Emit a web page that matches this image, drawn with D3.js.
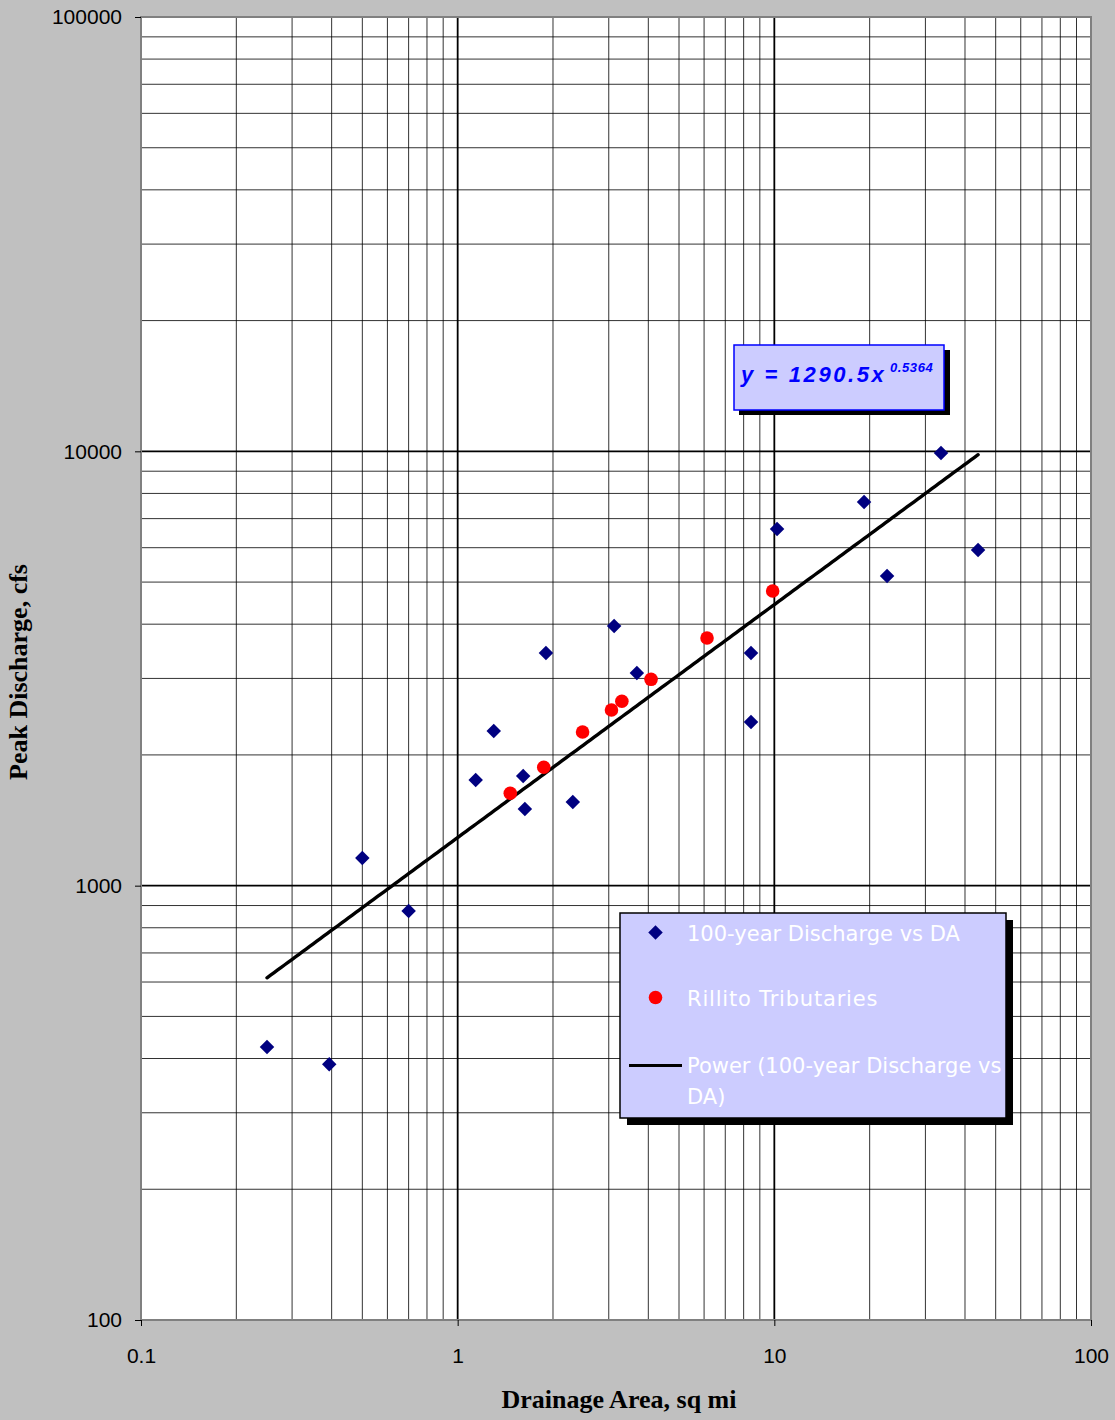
<!DOCTYPE html>
<html>
<head>
<meta charset="utf-8">
<script src="https://cdn.jsdelivr.net/npm/d3@7"></script>
<style>
  html, body { margin: 0; padding: 0; background: #C0C0C0; }
  svg { display: block; }
</style>
</head>
<body>
<svg id="chart" width="1115" height="1420"></svg>
<script>
// ---- Data ----
const xTickValues = [0.1, 1, 10, 100];
const xTickLabels = ["0.1", "1", "10", "100"];
const yTickValues = [100, 1000, 10000, 100000];
const yTickLabels = ["100", "1000", "10000", "100000"];

// 100-year Discharge vs DA (blue diamonds)
const daArea = [0.25, 0.393, 0.50, 0.70, 1.14, 1.30, 1.61, 1.63, 1.90, 2.31, 3.12, 3.68, 8.44, 8.44, 10.2, 19.2, 22.7, 33.6, 44.0];
const daQ    = [425, 388, 1158, 874, 1751, 2270, 1788, 1501, 3433, 1558, 3962, 3088, 3433, 2381, 6625, 7644, 5164, 9912, 5925];

// Rillito Tributaries (red circles)
const rtArea = [1.466, 1.87, 2.48, 3.06, 3.30, 4.08, 6.13, 9.88];
const rtQ    = [1632, 1873, 2258, 2538, 2658, 2986, 3717, 4769];

// Power trendline coefficients (from displayed equation)
const trendCoef = 1290.5;
const trendExp = 0.5364;

const seriesNames = ["100-year Discharge vs DA", "Rillito Tributaries", "Power (100-year Discharge vs", "DA)"];

// ---- Layout ----
const svg = d3.select("#chart");
const L = 141, R = 1091, T = 17, B = 1320;

const x = d3.scaleLog().domain([0.1, 100]).range([L, R]);
const y = d3.scaleLog().domain([100, 100000]).range([B, T]);

// plot background
svg.append("rect").attr("x", L).attr("y", T).attr("width", R - L).attr("height", B - T).attr("fill", "#fff");

// grid
const minorX = [], minorY = [];
for (let d = 0.1; d < 100; d *= 10) for (let k = 2; k <= 9; k++) minorX.push(d * k);
for (let d = 100; d < 100000; d *= 10) for (let k = 2; k <= 9; k++) minorY.push(d * k);

const grid = svg.append("g");
grid.selectAll(".gxm").data(minorX).join("line")
  .attr("x1", d => x(d)).attr("x2", d => x(d)).attr("y1", T).attr("y2", B)
  .attr("stroke", "#000").attr("stroke-width", 1).attr("opacity", 0.8);
grid.selectAll(".gym").data(minorY).join("line")
  .attr("y1", d => y(d)).attr("y2", d => y(d)).attr("x1", L).attr("x2", R)
  .attr("stroke", "#000").attr("stroke-width", 1).attr("opacity", 0.8);
grid.selectAll(".gxM").data(xTickValues).join("line")
  .attr("x1", d => x(d)).attr("x2", d => x(d)).attr("y1", T).attr("y2", B)
  .attr("stroke", "#000").attr("stroke-width", 1.8);
grid.selectAll(".gyM").data(yTickValues).join("line")
  .attr("y1", d => y(d)).attr("y2", d => y(d)).attr("x1", L).attr("x2", R)
  .attr("stroke", "#000").attr("stroke-width", 1.8);

// plot border
svg.append("rect").attr("x", L).attr("y", T).attr("width", R - L).attr("height", B - T)
  .attr("fill", "none").attr("stroke", "#808080").attr("stroke-width", 2);

// axes
const xAxis = d3.axisBottom(x).tickValues(xTickValues).tickSize(6).tickPadding(22)
  .tickFormat((d, i) => xTickLabels[i]);
const gx = svg.append("g").attr("transform", `translate(0,${B})`).call(xAxis);
gx.select(".domain").remove();
gx.selectAll("line").attr("stroke", "#000");
gx.selectAll("text").attr("font-family", "Liberation Sans, Arial, sans-serif").attr("font-size", 21).attr("fill", "#000");

const yAxis = d3.axisLeft(y).tickValues(yTickValues).tickSize(6).tickPadding(13)
  .tickFormat((d, i) => yTickLabels[i]);
const gy = svg.append("g").attr("transform", `translate(${L},0)`).call(yAxis);
gy.select(".domain").remove();
gy.selectAll("line").attr("stroke", "#000");
gy.selectAll("text").attr("font-family", "Liberation Sans, Arial, sans-serif").attr("font-size", 21).attr("fill", "#000");

// axis titles
svg.append("text").attr("x", 619).attr("y", 1408).attr("text-anchor", "middle")
  .attr("font-family", "Liberation Serif, Times New Roman, serif").attr("font-weight", "bold").attr("font-size", 26)
  .attr("fill", "#000").text("Drainage Area, sq mi");
svg.append("text").attr("transform", "translate(27,672) rotate(-90)").attr("text-anchor", "middle")
  .attr("font-family", "Liberation Serif, Times New Roman, serif").attr("font-weight", "bold").attr("font-size", 26)
  .attr("fill", "#000").text("Peak Discharge, cfs");

// trendline
const lo = Math.log10(d3.min(daArea)), hi = Math.log10(d3.max(daArea));
const trendX = d3.range(0, 201).map(i => Math.pow(10, lo + i / 200 * (hi - lo)));
const line = d3.line().x(d => x(d)).y(d => y(trendCoef * Math.pow(d, trendExp)));
svg.append("path").datum(trendX).attr("d", line).attr("fill", "none").attr("stroke", "#000")
  .attr("stroke-width", 3.4).attr("stroke-linecap", "round");

// blue diamonds
const diamond = d3.symbol().type(d3.symbolSquare).size(105);
svg.append("g").selectAll("path").data(daArea.map((a, i) => [a, daQ[i]])).join("path")
  .attr("d", diamond)
  .attr("transform", d => `translate(${x(d[0])},${y(d[1])}) rotate(45)`)
  .attr("fill", "#000080");

// red circles
svg.append("g").selectAll("circle").data(rtArea.map((a, i) => [a, rtQ[i]])).join("circle")
  .attr("cx", d => x(d[0])).attr("cy", d => y(d[1])).attr("r", 6.8)
  .attr("fill", "#FF0000");

// equation box
svg.append("rect").attr("x", 739).attr("y", 350).attr("width", 211).attr("height", 65).attr("fill", "#000");
svg.append("rect").attr("x", 734).attr("y", 345).attr("width", 210).attr("height", 65)
  .attr("fill", "#CCCCFF").attr("stroke", "#0000FF").attr("stroke-width", 1.5);
svg.append("text").attr("x", 741).attr("y", 382)
  .attr("font-family", "Liberation Sans, Arial, sans-serif").attr("font-weight", "bold").attr("font-style", "italic")
  .attr("font-size", 22).attr("letter-spacing", 2.6).attr("fill", "#0000FF").text(`y = ${trendCoef}x`);
svg.append("text").attr("x", 890).attr("y", 372)
  .attr("font-family", "Liberation Sans, Arial, sans-serif").attr("font-weight", "bold").attr("font-style", "italic")
  .attr("font-size", 13).attr("letter-spacing", 0.6).attr("fill", "#0000FF").text(String(trendExp));

// legend
svg.append("rect").attr("x", 627).attr("y", 920).attr("width", 386).attr("height", 205).attr("fill", "#000");
svg.append("rect").attr("x", 620).attr("y", 913).attr("width", 386).attr("height", 205)
  .attr("fill", "#CCCCFF").attr("stroke", "#000").attr("stroke-width", 1.5);
svg.append("path").attr("d", d3.symbol().type(d3.symbolSquare).size(105)())
  .attr("transform", "translate(655.5,932.5) rotate(45)").attr("fill", "#000080");
svg.append("circle").attr("cx", 655.5).attr("cy", 997.5).attr("r", 6.8).attr("fill", "#FF0000");
svg.append("line").attr("x1", 629).attr("x2", 682).attr("y1", 1065.5).attr("y2", 1065.5)
  .attr("stroke", "#000").attr("stroke-width", 3);
const legY = [941, 1006, 1073, 1104];
const legSpacing = [0, 0.8, 0, 0];
svg.append("g").selectAll("text").data(seriesNames).join("text")
  .attr("x", 687).attr("y", (d, i) => legY[i])
  .attr("letter-spacing", (d, i) => legSpacing[i])
  .attr("font-family", "DejaVu Sans, Verdana, sans-serif").attr("font-size", 21)
  .attr("fill", "#FFFFFF").text(d => d);
</script>
</body>
</html>
